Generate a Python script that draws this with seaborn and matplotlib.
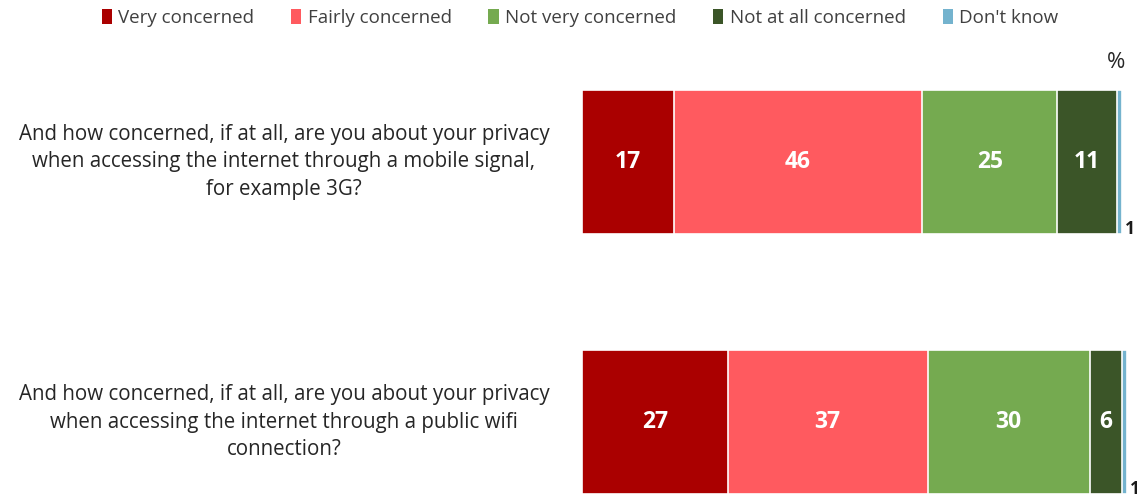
import numpy as np
import pandas as pd
import matplotlib
matplotlib.use("Agg")
import matplotlib.pyplot as plt
from matplotlib.patches import Patch
from matplotlib.transforms import blended_transform_factory
import seaborn as sns

questions = [
    "And how concerned, if at all, are you about your privacy\nwhen accessing the internet through a mobile signal,\nfor example 3G?",
    "And how concerned, if at all, are you about your privacy\nwhen accessing the internet through a public wifi\nconnection?",
]
categories = ["Very concerned", "Fairly concerned", "Not very concerned",
              "Not at all concerned", "Don't know"]
very_concerned = [17, 27]
fairly_concerned = [46, 37]
not_very_concerned = [25, 30]
not_at_all_concerned = [11, 6]
dont_know = [1, 1]
colors = ["#AA0000", "#FF5A5F", "#75AA50", "#3B5528", "#74B3CE"]

sns.set_theme(style="white")
plt.rcParams["font.family"] = ["Open Sans", "DejaVu Sans"]

series = [very_concerned, fairly_concerned, not_very_concerned,
          not_at_all_concerned, dont_know]
values = np.array(series, dtype=float)  # shape (categories, questions)
cum = np.cumsum(values, axis=0)

fig = plt.figure(figsize=(11.37, 4.99), dpi=100)
W, H = 1137, 499
bar_px = 144
gap_px = 260
h = bar_px / gap_px
ax = fig.add_axes([582 / W, (H - 494) / H, (1127.4 - 582) / W, 404 / H])

# stacked bars: draw cumulative totals from the outermost segment inward
for i in range(len(categories) - 1, -1, -1):
    df = pd.DataFrame({"q": [0, 1], "total": cum[i]})
    sns.barplot(data=df, x="total", y="q", orient="h", color=colors[i],
                width=h, edgecolor="white", linewidth=1.2, saturation=1,
                ax=ax, native_scale=True)

ax.set_xlim(0, 101)
ax.set_ylim(1 + h / 2, -h / 2)
ax.axis("off")

label_tf = blended_transform_factory(fig.transFigure, ax.transData)
for j in range(len(questions)):
    for i in range(len(categories)):
        v = values[i, j]
        start = cum[i, j] - v
        if i < len(categories) - 1:
            ax.text(start + v / 2, j, f"{v:g}", ha="center", va="center",
                    color="white", fontsize=16.5, fontweight="bold")
        else:
            ax.text(cum[i, j] + 0.5, j + h / 2 - 0.02, f"{v:g}", ha="left",
                    va="center", color="#1a1a1a", fontsize=12.5,
                    fontweight="bold", clip_on=False)
    ax.text(284 / W, j, questions[j], ha="center", va="center", color="#262626",
            fontsize=14.8, linespacing=1.42, transform=label_tf, clip_on=False)

fig.text(1116 / W, 1 - 62 / H, "%", ha="center", va="center", fontsize=16,
         color="#262626")

handles = [Patch(facecolor=c, edgecolor="none") for c in colors]
fig.legend(handles, categories, loc="center", bbox_to_anchor=(580 / W, 1 - 18 / H),
           ncol=5, frameon=False, fontsize=13.5, handlelength=0.55, handleheight=0.8,
           handletextpad=0.35, columnspacing=1.95, labelcolor="#404040")

fig.savefig("out.png", dpi=100)
